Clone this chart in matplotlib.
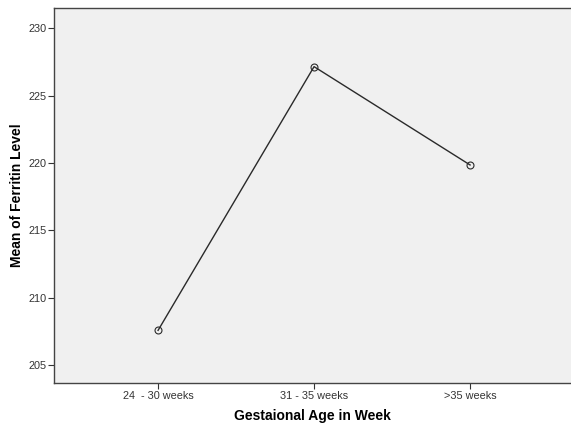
import matplotlib
matplotlib.use("Agg")
import matplotlib.pyplot as plt

categories = ["24  - 30 weeks", "31 - 35 weeks", ">35 weeks"]
mean_ferritin = [207.57, 227.15, 219.85]
y_ticks = [205, 210, 215, 220, 225, 230]

plt.rcParams['font.family'] = ['Liberation Sans', 'DejaVu Sans']

fig = plt.figure(figsize=(5.71, 4.24), dpi=100)
ax = fig.add_axes([0.0946, 0.096, 0.9054, 0.8863])
ax.set_facecolor("#f0f0f0")

x = list(range(len(categories)))
ax.plot(x, mean_ferritin, color="#2a2a2a", linewidth=1.0,
        marker="o", markersize=5, markerfacecolor="none",
        markeredgecolor="#2a2a2a", markeredgewidth=0.8)

ax.set_xlim(-0.667, 2.647)
ax.set_ylim(203.64, 231.54)
ax.set_xticks(x)
ax.set_xticklabels(categories)
ax.set_yticks(y_ticks)
ax.tick_params(axis="both", labelsize=7.8, colors="#333333", length=4, width=0.8, pad=1.5)

for s in ["left", "bottom", "top"]:
    ax.spines[s].set_color("#444444")
    ax.spines[s].set_linewidth(1.0)
ax.spines["right"].set_visible(False)

ax.set_xlabel("Gestaional Age in Week", fontsize=10, fontweight="bold", labelpad=6)
ax.set_ylabel("Mean of Ferritin Level", fontsize=10, fontweight="bold", labelpad=3)

fig.savefig("out.png", dpi=100)
